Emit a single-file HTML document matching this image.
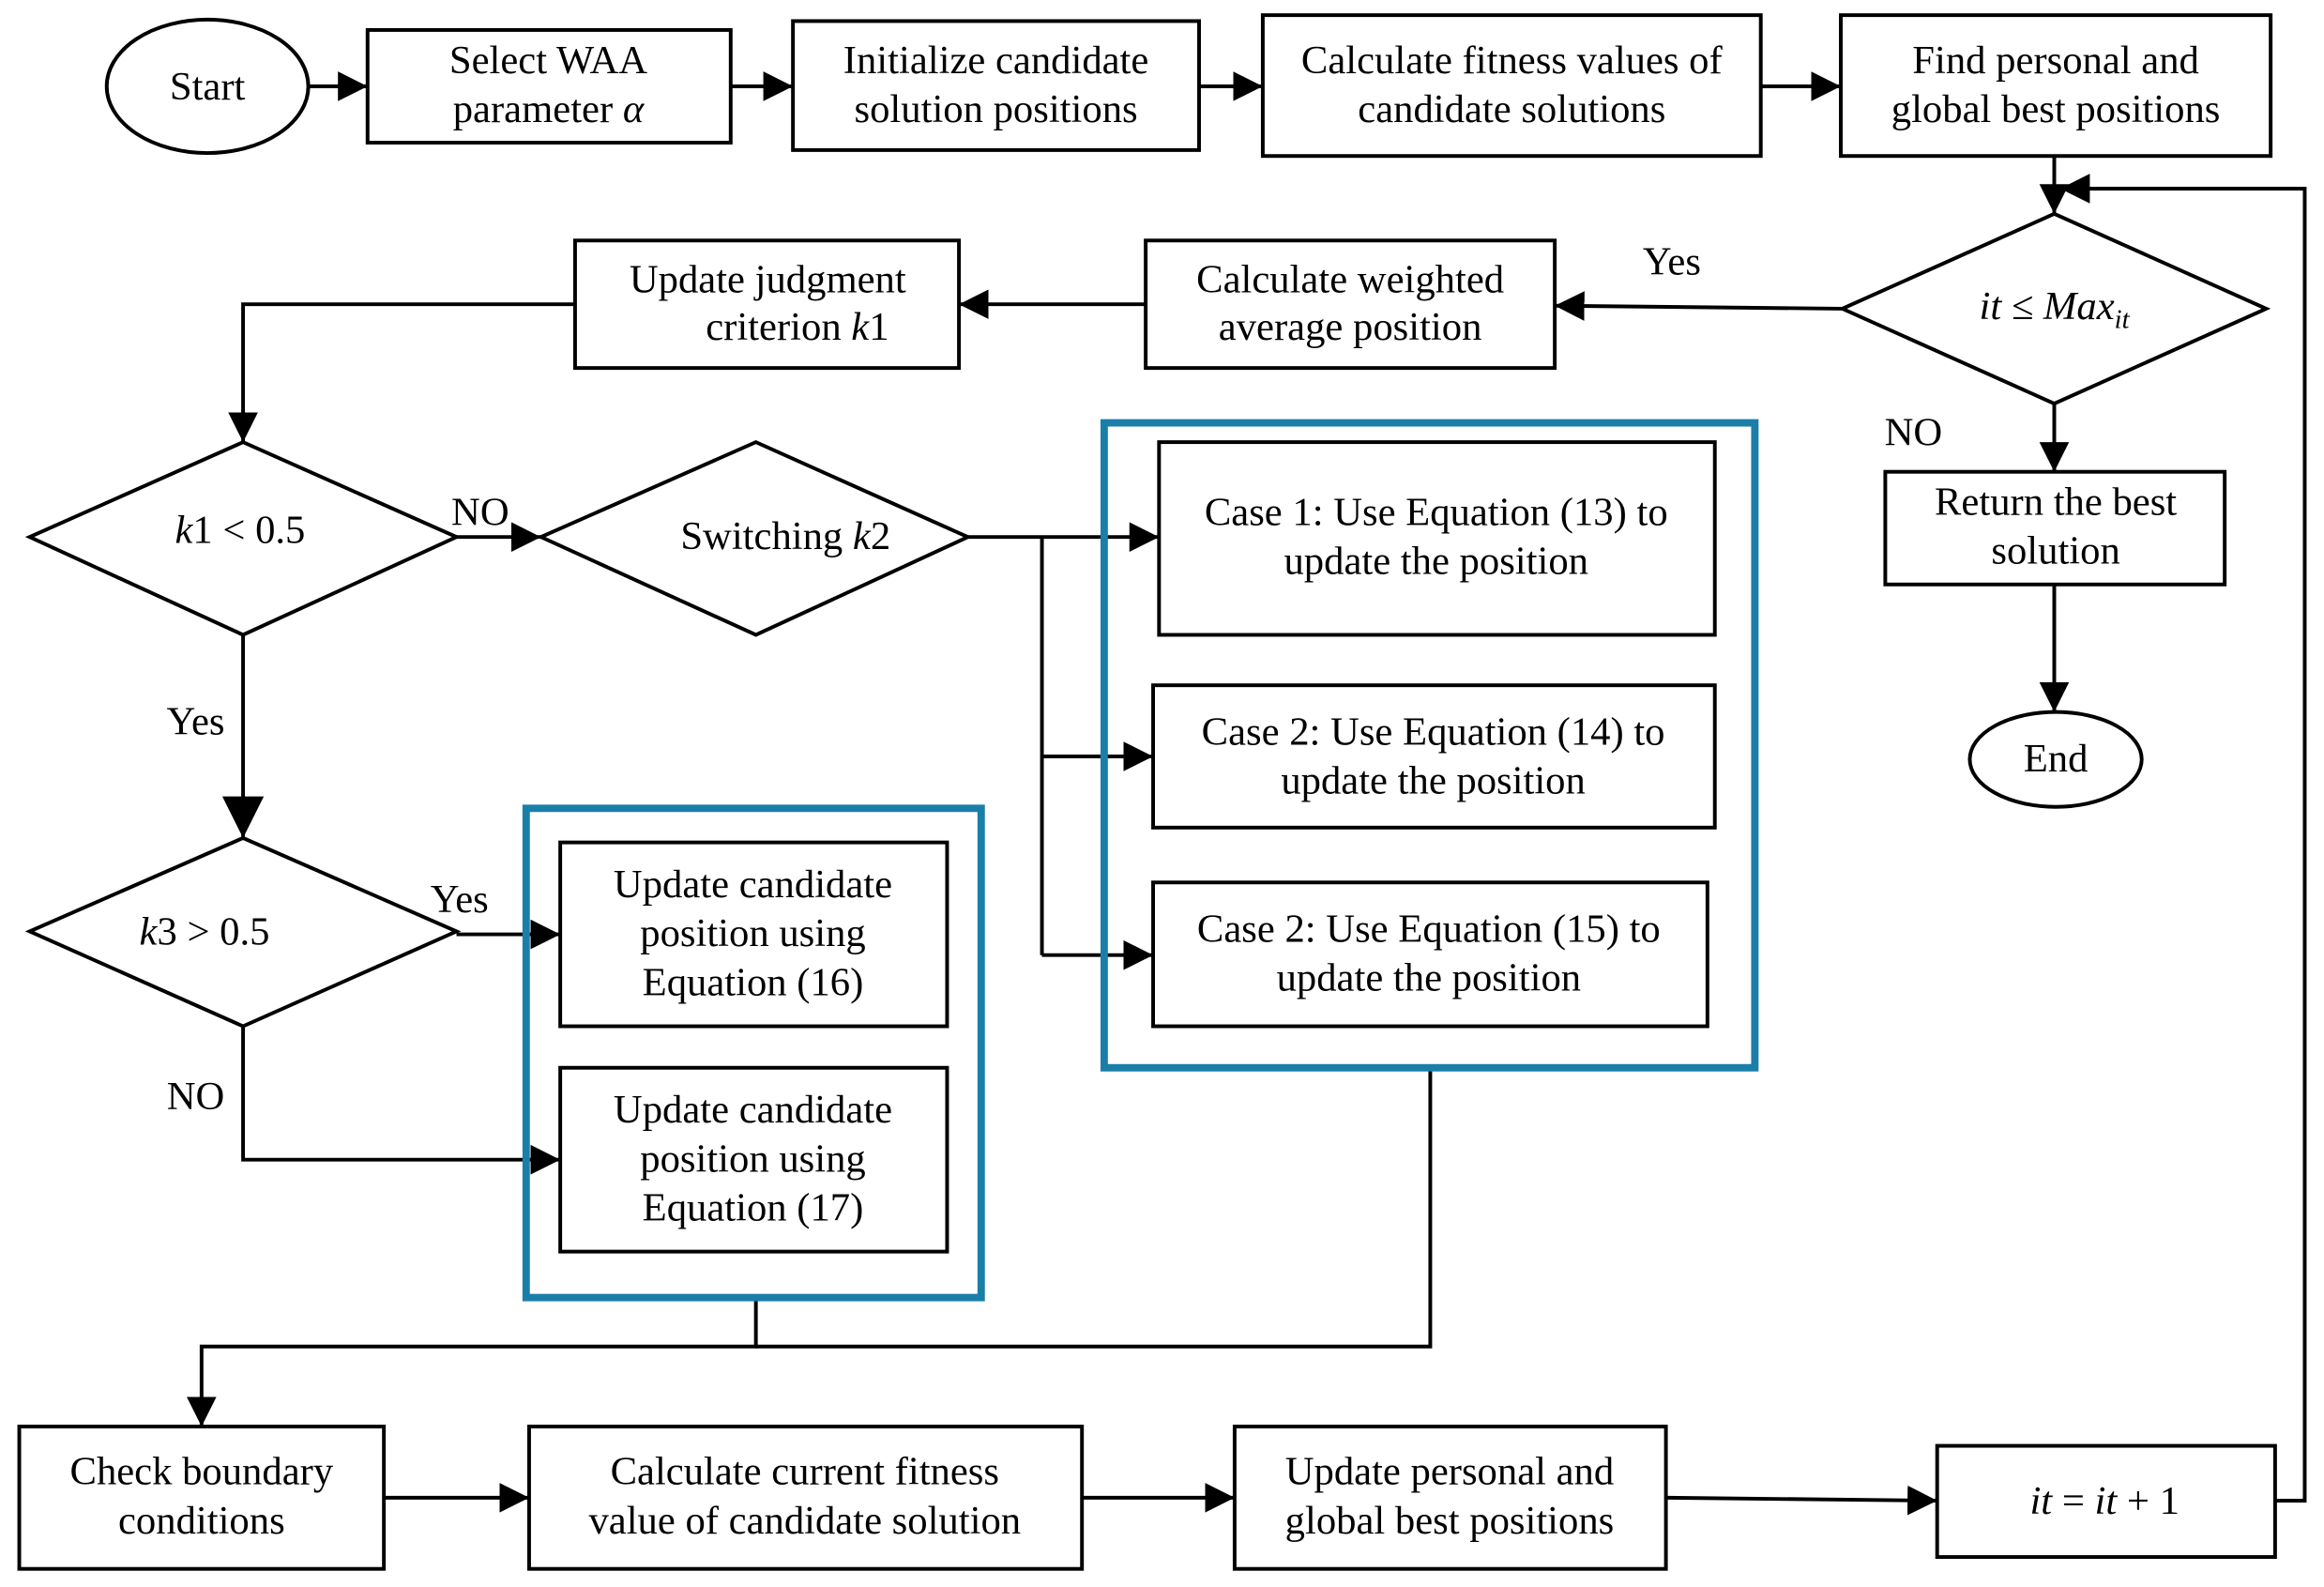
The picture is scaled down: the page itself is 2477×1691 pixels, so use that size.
<!DOCTYPE html>
<html><head><meta charset="utf-8"><style>
html,body{margin:0;padding:0;background:#fff}
svg{display:block}
text{font-family:"Liberation Serif",serif;font-size:27px;fill:#000;text-anchor:middle}
.i{font-style:italic}
</style></head><body>
<svg width="2477" height="1691" viewBox="0 0 1568 1070" xmlns="http://www.w3.org/2000/svg">
<defs><marker id="a" markerWidth="10" markerHeight="10" refX="9" refY="5" orient="auto" markerUnits="userSpaceOnUse"><path d="M0,0 L10,5 L0,10 z" fill="#000"/></marker>
<marker id="b" markerWidth="30" markerHeight="30" refX="28" refY="15" orient="auto" markerUnits="userSpaceOnUse"><path d="M0,1 L28,15 L0,29 z" fill="#000"/></marker>
<marker id="c" markerWidth="22" markerHeight="22" refX="20" refY="10" orient="auto" markerUnits="userSpaceOnUse"><path d="M0,0 L20,10 L0,20 z" fill="#000"/></marker></defs>
<g fill="none" stroke="#000" stroke-width="2.5">
<ellipse cx="140" cy="58" rx="68" ry="45"/>
<rect x="248" y="20" width="245" height="76"/>
<rect x="535" y="14" width="274" height="87"/>
<rect x="852" y="10" width="336" height="95"/>
<rect x="1242" y="10" width="290" height="95"/>
<polygon points="1243,208 1386,144 1529,208 1386,272"/>
<rect x="773" y="162" width="276" height="86"/>
<rect x="388" y="162" width="259" height="86"/>
<polygon points="20,362 164,298 308,362 164,428"/>
<polygon points="365,362 510,298 653,362 510,428"/>
<rect x="782" y="298" width="375" height="130"/>
<rect x="778" y="462" width="379" height="96"/>
<rect x="778" y="595" width="374" height="97"/>
<rect x="1272" y="318" width="229" height="76"/>
<ellipse cx="1387" cy="512" rx="58" ry="32"/>
<polygon points="20,628 164,565 308,628 164,692"/>
<rect x="378" y="568" width="261" height="124"/>
<rect x="378" y="720" width="261" height="124"/>
<rect x="13" y="962" width="246" height="96"/>
<rect x="357" y="962" width="373" height="96"/>
<rect x="833" y="962" width="291" height="96"/>
<rect x="1307" y="975" width="228" height="75"/>
<path d="M208,58 H248" marker-end="url(#c)"/>
<path d="M493,58 H535" marker-end="url(#c)"/>
<path d="M809,58 H852" marker-end="url(#c)"/>
<path d="M1188,58 H1242" marker-end="url(#c)"/>
<path d="M1386,105 V144" marker-end="url(#c)"/>
<path d="M1535,1012 H1555 V127 H1390" marker-end="url(#c)"/>
<path d="M1243,208 L1049,206" marker-end="url(#c)"/>
<path d="M773,205 H647" marker-end="url(#c)"/>
<path d="M388,205 H164 V298" marker-end="url(#c)"/>
<path d="M308,362 H365" marker-end="url(#c)"/>
<path d="M653,362 H782" marker-end="url(#c)"/>
<path d="M703,362 V644"/>
<path d="M703,510 H778" marker-end="url(#c)"/>
<path d="M703,644 H778" marker-end="url(#c)"/>
<path d="M164,428 V565" marker-end="url(#b)"/>
<path d="M308,630 H378" marker-end="url(#c)"/>
<path d="M164,692 V782 H378" marker-end="url(#c)"/>
<path d="M1386,272 V318" marker-end="url(#c)"/>
<path d="M1386,394 V480" marker-end="url(#c)"/>
<path d="M510,875 V908 H136 V962" marker-end="url(#c)"/>
<path d="M965,720 V908 H510"/>
<path d="M259,1010 H357" marker-end="url(#c)"/>
<path d="M730,1010 H833" marker-end="url(#c)"/>
<path d="M1124,1010 L1307,1012" marker-end="url(#c)"/>
</g>
<g fill="none" stroke="#1a7fa8" stroke-width="5">
<rect x="745" y="285" width="439" height="435"/>
<rect x="355" y="545" width="307" height="330"/>
</g>
<text x="140" y="67">Start</text>
<text x="370" y="49">Select WAA</text>
<text x="370" y="82">parameter <tspan class="i">α</tspan></text>
<text x="672" y="49">Initialize candidate</text>
<text x="672" y="82">solution positions</text>
<text x="1020" y="49">Calculate fitness values of</text>
<text x="1020" y="82">candidate solutions</text>
<text x="1387" y="49">Find personal and</text>
<text x="1387" y="82">global best positions</text>
<text x="1386" y="215" class="i" font-size="32">it ≤ Max<tspan font-size="18" dy="6">it</tspan></text>
<text x="1128" y="185">Yes</text>
<text x="911" y="197">Calculate weighted</text>
<text x="911" y="229">average position</text>
<text x="518" y="197">Update judgment</text>
<text x="538" y="229">criterion <tspan class="i">k</tspan>1</text>
<text x="162" y="366" font-size="29"><tspan class="i">k</tspan>1 &lt; 0.5</text>
<text x="324" y="354">NO</text>
<text x="530" y="370">Switching <tspan class="i">k</tspan>2</text>
<text x="969" y="354">Case 1: Use Equation (13) to</text>
<text x="969" y="387">update the position</text>
<text x="967" y="502">Case 2: Use Equation (14) to</text>
<text x="967" y="535">update the position</text>
<text x="964" y="635">Case 2: Use Equation (15) to</text>
<text x="964" y="668">update the position</text>
<text x="1291" y="300">NO</text>
<text x="1387" y="347">Return the best</text>
<text x="1387" y="380">solution</text>
<text x="1387" y="520">End</text>
<text x="132" y="495">Yes</text>
<text x="138" y="637" font-size="32"><tspan class="i">k</tspan>3 &gt; 0.5</text>
<text x="310" y="615">Yes</text>
<text x="132" y="748">NO</text>
<text x="508" y="605">Update candidate</text>
<text x="508" y="638">position using</text>
<text x="508" y="671">Equation (16)</text>
<text x="508" y="757">Update candidate</text>
<text x="508" y="790">position using</text>
<text x="508" y="823">Equation (17)</text>
<text x="136" y="1001">Check boundary</text>
<text x="136" y="1034">conditions</text>
<text x="543" y="1001">Calculate current fitness</text>
<text x="543" y="1034">value of candidate solution</text>
<text x="978" y="1001">Update personal and</text>
<text x="978" y="1034">global best positions</text>
<text x="1420" y="1021" font-size="32"><tspan class="i">it</tspan> = <tspan class="i">it</tspan> + 1</text>
</svg>
</body></html>
